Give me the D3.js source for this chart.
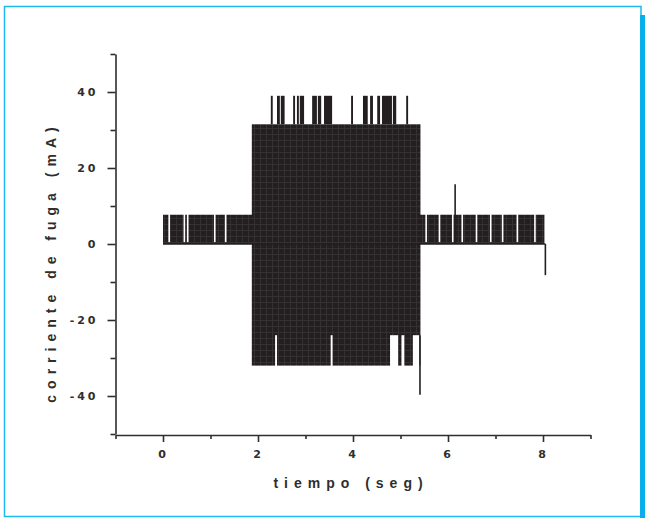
<!DOCTYPE html>
<html>
<head>
<meta charset="utf-8">
<script src="https://cdn.jsdelivr.net/npm/d3@7"></script>
<style>
	body { margin: 0; background: #fff; }
	svg { display: block; }
	text { font-family: 'Liberation Sans', Arial, sans-serif; font-weight: bold; fill: #2e2e2e; }
</style>
</head>
<body>
<div id="chart"></div>
<script>
// signal envelope bands (time in seg, current in mA)
const bandStart = [0, 1.87];
const bandEnd = [8.03, 5.42];
const bandLow = [0, -32];
const bandHigh = [7.7, 31.5];

// gaps where the low band drops back to zero
const lowGaps = [0.13, 0.45, 0.52, 1.09, 1.32, 5.54, 5.82, 6.1, 6.3, 6.6, 6.9, 7.15, 7.46, 7.83];

// spikes above the high band (reach 39 mA)
const topStart = [2.27, 2.4, 2.48, 2.74, 2.82, 2.88, 3.14, 3.26, 3.39, 3.96, 4.21, 4.36, 4.51, 4.61, 4.84, 5.12];
const topEnd = [2.31, 2.46, 2.56, 2.78, 2.86, 2.97, 3.24, 3.33, 3.56, 4.0, 4.31, 4.42, 4.57, 4.82, 4.91, 5.16];
const topLevel = 39;

// notches at the bottom of the high band (only down to -24 mA)
const notchStart = [2.36, 3.53, 4.78, 5.02, 5.26];
const notchEnd = [2.4, 3.57, 4.95, 5.08, 5.4];
const notchLevel = -24;

// single isolated peaks
const peakTime = [5.41, 6.15, 8.05];
const peakValue = [-39.7, 15.7, -8.2];

const majorX = [0, 2, 4, 6, 8];
const minorX = [-1, 1, 3, 5, 7, 9];
const majorY = [-40, -20, 0, 20, 40];
const minorY = [-50, -30, -10, 10, 30, 50];

const W = 645, H = 523;
const svg = d3.select('#chart').append('svg').attr('width', W).attr('height', H);

// frame
svg.append('rect')
	.attr('x', 4.5).attr('y', 6.5).attr('width', 636.5).attr('height', 510)
	.attr('fill', 'none').attr('stroke', '#1db8ee').attr('stroke-width', 1.5);
svg.append('rect')
	.attr('x', 640).attr('y', 15).attr('width', 5).attr('height', 503)
	.attr('fill', '#0aaeea');

const x = d3.scaleLinear().domain([-1, 9]).range([115.5, 590.5]);
const y = d3.scaleLinear().domain([-50, 50]).range([434, 54]);

// dark texture like the printed plot
const defs = svg.append('defs');
const pat = defs.append('pattern').attr('id', 'tex')
	.attr('patternUnits', 'userSpaceOnUse').attr('width', 12).attr('height', 12);
pat.append('rect').attr('width', 12).attr('height', 12).attr('fill', '#231f20');
pat.append('path').attr('d', 'M0,2.5H12M0,8.5H12M2.5,0V12M8.5,0V12')
	.attr('stroke', '#353132').attr('stroke-width', 1);

const plot = svg.append('g');

// bands
bandStart.forEach((t, i) => {
	plot.append('rect')
		.attr('x', x(t))
		.attr('y', y(bandHigh[i]))
		.attr('width', x(bandEnd[i]) - x(t))
		.attr('height', y(bandLow[i]) - y(bandHigh[i]))
		.attr('fill', 'url(#tex)');
});

// white gaps in the low band (skip those hidden by the high band)
lowGaps.filter((t) => t < bandStart[1] || t > bandEnd[1]).forEach((t) => {
	plot.append('rect')
		.attr('x', x(t) - 0.8)
		.attr('y', y(bandHigh[0]) - 1)
		.attr('width', 1.6)
		.attr('height', y(0.5) - y(bandHigh[0]) + 1)
		.attr('fill', '#fff');
});

// top spikes
topStart.forEach((t, i) => {
	plot.append('rect')
		.attr('x', x(t))
		.attr('y', y(topLevel))
		.attr('width', Math.max(1.5, x(topEnd[i]) - x(t)))
		.attr('height', y(bandHigh[1]) - y(topLevel))
		.attr('fill', '#231f20');
});

// bottom notches
notchStart.forEach((t, i) => {
	plot.append('rect')
		.attr('x', x(t))
		.attr('y', y(notchLevel))
		.attr('width', Math.max(1.5, x(notchEnd[i]) - x(t)))
		.attr('height', y(bandLow[1]) - y(notchLevel) + 1)
		.attr('fill', '#fff');
});

// zero baseline
plot.append('line')
	.attr('x1', x(0)).attr('x2', x(peakTime[2]))
	.attr('y1', y(0)).attr('y2', y(0))
	.attr('stroke', '#231f20').attr('stroke-width', 1.5);

// isolated peaks
peakTime.forEach((t, i) => {
	const base = t > bandStart[1] && t < bandEnd[1] ? notchLevel : 0;
	plot.append('line')
		.attr('x1', x(t)).attr('x2', x(t))
		.attr('y1', y(base)).attr('y2', y(peakValue[i]))
		.attr('stroke', '#231f20').attr('stroke-width', 1.6);
});

// axes
const xAxis = svg.append('g').attr('transform', `translate(0,${y(-50) + 1})`);
xAxis.call(d3.axisBottom(x).tickValues(majorX).tickSize(7).tickSizeOuter(0).tickFormat((d) => String(d)));
xAxis.append('g').call(d3.axisBottom(x).tickValues(minorX).tickSize(4).tickFormat(''))
	.select('.domain').remove();
const yAxis = svg.append('g').attr('transform', `translate(${x(-1)},0)`);
yAxis.call(d3.axisLeft(y).tickValues(majorY).tickSize(8).tickSizeOuter(0).tickFormat((d) => String(d)));
yAxis.append('g').call(d3.axisLeft(y).tickValues(minorY).tickSize(5).tickFormat(''))
	.select('.domain').remove();

svg.selectAll('.domain, .tick line').attr('stroke', '#2e2e2e').attr('stroke-width', 1.6);
svg.selectAll('.tick text')
	.style('font-family', "'DejaVu Sans', sans-serif")
	.style('font-weight', 'bold')
	.style('font-size', '11px').style('letter-spacing', '3px')
	.attr('fill', '#333');
xAxis.selectAll('.tick text').attr('dy', '1.15em');
yAxis.selectAll('.tick text').attr('x', -17);

// axis titles
svg.append('text')
	.attr('x', 351).attr('y', 488)
	.attr('text-anchor', 'middle')
	.style('font-size', '14px').style('letter-spacing', '6px')
	.text('tiempo (seg)');
svg.append('text')
	.attr('transform', 'translate(56,262) rotate(-90)')
	.attr('text-anchor', 'middle')
	.style('font-size', '14px').style('letter-spacing', '6px')
	.text('corriente de fuga (mA)');
</script>
</body>
</html>
